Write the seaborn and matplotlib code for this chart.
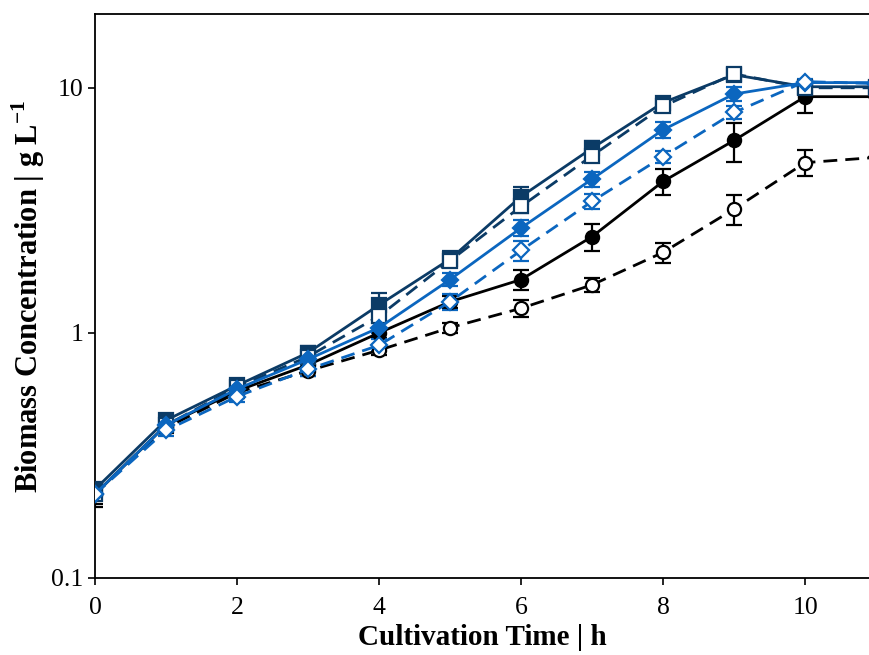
import matplotlib
matplotlib.use('Agg')
import matplotlib.pyplot as plt
import seaborn as sns
from matplotlib.ticker import FixedLocator, FixedFormatter, NullLocator

# Tempo de cultivo (h)
tempo = [0, 1, 2, 3, 4, 5, 6, 7, 8, 9, 10, 11]

# Concentração de biomassa (g/L) por condição
preto_cheio = [0.22, 0.42, 0.58, 0.74, 1.00, 1.34, 1.65, 2.47, 4.15, 6.1, 9.2, 9.2]
preto_cheio_err = [0.025, 0.02, 0.03, 0.04, 0.05, 0.08, 0.15, 0.32, 0.5, 1.1, 1.3, 0]

preto_aberto = [0.22, 0.41, 0.57, 0.70, 0.85, 1.05, 1.26, 1.57, 2.13, 3.2, 4.95, 5.2]
preto_aberto_err = [0.02, 0.02, 0.03, 0.03, 0.04, 0.05, 0.1, 0.1, 0.2, 0.45, 0.6, 0]

marinho_cheio = [0.23, 0.44, 0.61, 0.83, 1.30, 2.0, 3.6, 5.67, 8.7, 11.3, 10.1, 10.1]
marinho_cheio_err = [0.015, 0.02, 0.03, 0.05, 0.15, 0.15, 0.35, 0.4, 0.4, 0.5, 0.5, 0]

marinho_aberto = [0.22, 0.42, 0.60, 0.80, 1.17, 1.97, 3.28, 5.28, 8.4, 11.4, 10.0, 10.0]
marinho_aberto_err = [0.01, 0.02, 0.02, 0.04, 0.06, 0.1, 0.2, 0.25, 0.3, 0.4, 0.3, 0]

azul_cheio = [0.22, 0.42, 0.59, 0.78, 1.05, 1.65, 2.68, 4.24, 6.74, 9.43, 10.5, 10.5]
azul_cheio_err = [0.01, 0.02, 0.02, 0.04, 0.05, 0.1, 0.2, 0.3, 0.5, 0.6, 0.3, 0]

azul_aberto = [0.22, 0.40, 0.55, 0.71, 0.89, 1.34, 2.17, 3.44, 5.24, 7.93, 10.6, 10.4]
azul_aberto_err = [0.01, 0.02, 0.03, 0.04, 0.05, 0.1, 0.2, 0.25, 0.3, 0.5, 0.3, 0]

PRETO = 'black'
MARINHO = '#0b3b66'
AZUL = '#0b66bf'

series = [
    (preto_cheio, preto_cheio_err, PRETO, 'o', True, '-'),
    (preto_aberto, preto_aberto_err, PRETO, 'o', False, '--'),
    (marinho_cheio, marinho_cheio_err, MARINHO, 's', True, '-'),
    (marinho_aberto, marinho_aberto_err, MARINHO, 's', False, '--'),
    (azul_cheio, azul_cheio_err, AZUL, 'D', True, '-'),
    (azul_aberto, azul_aberto_err, AZUL, 'D', False, '--'),
]

sns.set_theme(style='ticks')
plt.rcParams['font.family'] = ['Liberation Serif', 'DejaVu Serif']
plt.rcParams['mathtext.fontset'] = 'custom'
plt.rcParams['mathtext.rm'] = 'Liberation Serif'
plt.rcParams['mathtext.bf'] = 'Liberation Serif:bold'
plt.rcParams['text.color'] = 'black'
plt.rcParams['axes.labelcolor'] = 'black'

fig = plt.figure(figsize=(8.69, 6.55), dpi=100)
ax = fig.add_axes([0.1093, 0.1176, 0.8907, 0.861])

for i, (vals, err, cor, mk, cheio, ls) in enumerate(series):
    ax.errorbar(tempo, vals, yerr=err, fmt='none', ecolor=cor, elinewidth=1.6,
                capsize=6, capthick=1.6, zorder=2 + i * 0.1)
    ms = 8.5 if mk == 'D' else 9.5
    sns.lineplot(x=tempo, y=vals, ax=ax, color=cor, linewidth=2.0,
                 marker=mk, markersize=ms,
                 markerfacecolor=cor if cheio else 'white',
                 markeredgecolor=cor, markeredgewidth=1.6,
                 dashes=(5, 2.9) if ls == '--' else '',
                 zorder=3 + i * 0.1)

ax.set_yscale('log')
ax.set_ylim(0.1, 20)
ax.set_xlim(0, 10.9)
ax.yaxis.set_major_locator(FixedLocator([0.1, 1, 10]))
ax.yaxis.set_major_formatter(FixedFormatter(['0.1', '1', '10']))
ax.yaxis.set_minor_locator(NullLocator())
ax.set_xticks([0, 2, 4, 6, 8, 10])

ax.tick_params(axis='both', direction='out', length=5, width=1.2,
               labelsize=18.5, colors='black')
ax.tick_params(axis='x', pad=9)
for lado in ['left', 'top', 'bottom']:
    ax.spines[lado].set_visible(True)
    ax.spines[lado].set_color('black')
    ax.spines[lado].set_linewidth(1.3)
ax.spines['right'].set_visible(False)

ax.set_xlabel('Cultivation Time | h', fontsize=21, fontweight='bold', labelpad=3)
ax.set_ylabel(r'Biomass Concentration | g L$^{\mathbf{-1}}$', fontsize=22,
              fontweight='bold', labelpad=3)

fig.savefig('out.png', dpi=100)
